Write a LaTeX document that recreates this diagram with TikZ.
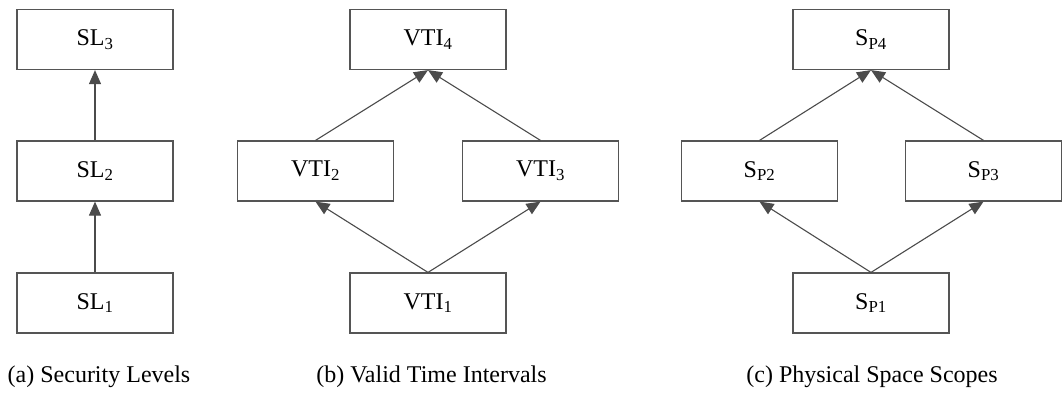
\documentclass[tikz,border=0pt]{standalone}
\usepackage{fontspec}
\setmainfont{Liberation Serif}
\usetikzlibrary{arrows.meta}
\definecolor{boxgray}{RGB}{85,85,85}
\definecolor{arrgray}{RGB}{75,75,75}
\tikzset{
  box/.style={draw=boxgray, line width=1.2pt, minimum width=156pt, minimum height=60pt, inner sep=0pt, font=\fontsize{24}{28}\selectfont},
  arr/.style={draw=arrgray, line width=1.1pt, -{Triangle[length=14pt,width=12pt]}},
  captxt/.style={anchor=base, font=\fontsize{24}{28}\selectfont}
}
\begin{document}
\begin{tikzpicture}[x=1pt,y=-1pt]
\useasboundingbox (0,0) rectangle (1064,392);
% (a)
\node[box] (sl3) at (95,39.5) {SL\textsubscript{3}};
\node[box] (sl2) at (95,171) {SL\textsubscript{2}};
\node[box] (sl1) at (95,303) {SL\textsubscript{1}};
\draw[arr] (sl2.north) -- (sl3.south);
\draw[arr] (sl1.north) -- (sl2.south);
\node[captxt] (capa) at (99,382) {(a) Security Levels};
% (b)
\node[box] (v4) at (428,39.5) {VTI\textsubscript{4}};
\node[box] (v2) at (315.5,171) {VTI\textsubscript{2}};
\node[box] (v3) at (540.5,171) {VTI\textsubscript{3}};
\node[box] (v1) at (428,303) {VTI\textsubscript{1}};
\draw[arr] (v2.north) -- (v4.south);
\draw[arr] (v3.north) -- (v4.south);
\draw[arr] (v1.north) -- (v2.south);
\draw[arr] (v1.north) -- (v3.south);
\node[captxt] (capb) at (431.5,382) {(b) Valid Time Intervals};
% (c)
\node[box] (s4) at (871,39.5) {S\textsubscript{P4}};
\node[box] (s2) at (759.5,171) {S\textsubscript{P2}};
\node[box] (s3) at (983.5,171) {S\textsubscript{P3}};
\node[box] (s1) at (871,303) {S\textsubscript{P1}};
\draw[arr] (s2.north) -- (s4.south);
\draw[arr] (s3.north) -- (s4.south);
\draw[arr] (s1.north) -- (s2.south);
\draw[arr] (s1.north) -- (s3.south);
\node[captxt] (capc) at (872,382) {(c) Physical Space Scopes};
\end{tikzpicture}
\end{document}
